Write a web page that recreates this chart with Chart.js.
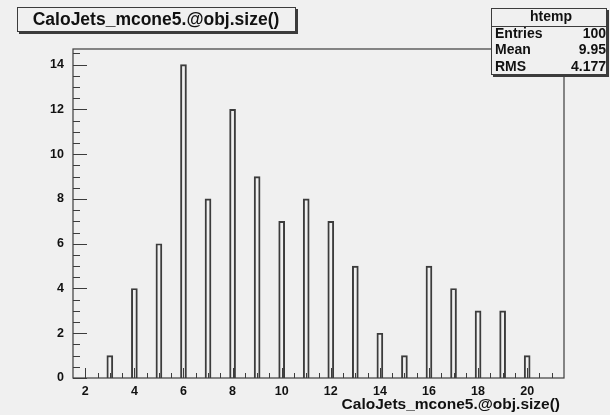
<!DOCTYPE html>
<html>
<head>
<meta charset="utf-8">
<script src="https://cdn.jsdelivr.net/npm/chart.js@4"></script>
<style>
  html, body { margin: 0; padding: 0; background: #f0f0f0; }
  canvas { display: block; }
</style>
</head>
<body>
<canvas id="myChart" width="610" height="415"></canvas>
<script>
'use strict';
//data
let binCenters = [3, 4, 5, 6, 7, 8, 9, 10, 11, 12, 13, 14, 15, 16, 17, 18, 19, 20];
let binCounts = [1, 4, 6, 14, 8, 12, 9, 7, 8, 7, 5, 2, 1, 5, 4, 3, 3, 1];
let xTicks = [2, 4, 6, 8, 10, 12, 14, 16, 18, 20];
let yTicks = [0, 2, 4, 6, 8, 10, 12, 14];
let histTitle = 'CaloJets_mcone5.@obj.size()';
let axisTitle = 'CaloJets_mcone5.@obj.size()';
let statsName = 'htemp';
let statsLabels = ['Entries', 'Mean', 'RMS'];
let statsValues = ['100', '9.95', '4.177'];

const lineColor = '#3c3c3c';
const fontFamily = '"Liberation Sans", Arial, sans-serif';

//draws a ROOT style box with a little shadow
function shadowBox(ctx, x, y, w, h){
  ctx.fillStyle = '#3c3c3c';
  ctx.fillRect(x + 2, y + 2, w, h);
  ctx.fillStyle = '#f0f0f0';
  ctx.fillRect(x, y, w, h);
  ctx.strokeStyle = lineColor;
  ctx.lineWidth = 1;
  ctx.strokeRect(x + 0.5, y + 0.5, w - 1, h - 1);
}

//frame, inside ticks, title and stats box
const rootDecor = {
  id: 'rootDecor',
  afterDraw(chart){
    const ctx = chart.ctx;
    const area = chart.chartArea;
    const xs = chart.scales.x;
    const ys = chart.scales.y;
    ctx.save();

    ctx.strokeStyle = lineColor;
    ctx.lineWidth = 1.2;
    ctx.strokeRect(area.left, area.top, area.right - area.left, area.bottom - area.top);

    //x ticks
    ctx.lineWidth = 1;
    for(let v = xs.min + 0.5; v < xs.max; v += 0.5){
      let px = Math.round(xs.getPixelForValue(v)) + 0.5;
      let len = (v % 2 === 0) ? 10 : 5;
      ctx.beginPath();
      ctx.moveTo(px, area.bottom);
      ctx.lineTo(px, area.bottom - len);
      ctx.stroke();
    }
    //y ticks
    for(let v = 0; v < ys.max; v += 0.5){
      let py = Math.round(ys.getPixelForValue(v)) + 0.5;
      let len = (v % 2 === 0) ? 14 : 7;
      ctx.beginPath();
      ctx.moveTo(area.left, py);
      ctx.lineTo(area.left + len, py);
      ctx.stroke();
    }

    //axis title
    ctx.fillStyle = '#111';
    ctx.font = 'bold 15.5px ' + fontFamily;
    ctx.textAlign = 'right';
    ctx.textBaseline = 'middle';
    ctx.fillText(axisTitle, 560, 405);

    //title box
    shadowBox(ctx, 17, 7, 279, 25);
    ctx.fillStyle = '#111';
    ctx.font = 'bold 17.5px ' + fontFamily;
    ctx.textAlign = 'center';
    ctx.fillText(histTitle, 156, 20);

    //stats box
    shadowBox(ctx, 491, 8, 116, 67);
    ctx.beginPath();
    ctx.moveTo(491, 26.5);
    ctx.lineTo(607, 26.5);
    ctx.stroke();
    ctx.fillStyle = '#111';
    ctx.font = 'bold 14px ' + fontFamily;
    ctx.textAlign = 'center';
    ctx.fillText(statsName, 551, 17);
    for(let i = 0; i < statsLabels.length; i++){
      let y = 34 + i * 16.5;
      ctx.textAlign = 'left';
      ctx.fillText(statsLabels[i], 495, y);
      ctx.textAlign = 'right';
      ctx.fillText(statsValues[i], 606, y);
    }
    ctx.restore();
  }
};

const ctx = document.getElementById('myChart');

new Chart(ctx, {
  type: 'bar',
  data: {
    datasets: [{
      data: binCenters.map((x, i) => ({x: x, y: binCounts[i]})),
      backgroundColor: 'rgba(0,0,0,0)',
      borderColor: lineColor,
      borderWidth: 1.3,
      barThickness: 6,
    }]
  },
  options: {
    responsive: false,
    animation: false,
    layout: {
      padding: {top: 49, right: 46, left: 0, bottom: 0}
    },
    plugins: {
      legend: {display: false},
      tooltip: {enabled: false}
    },
    scales: {
      x: {
        type: 'linear',
        offset: false,
        min: 1.5,
        max: 21.5,
        grid: {display: false, drawTicks: false, offset: false},
        border: {display: false},
        afterBuildTicks: (scale) => { scale.ticks = xTicks.map(v => ({value: v})); },
        afterFit: (scale) => { scale.height = 37; },
        ticks: {
          autoSkip: false,
          maxRotation: 0,
          padding: 6,
          color: '#111',
          font: {family: fontFamily, size: 12.5, weight: 'bold'}
        }
      },
      y: {
        min: 0,
        max: 14.7,
        grid: {display: false, drawTicks: false},
        border: {display: false},
        afterBuildTicks: (scale) => { scale.ticks = yTicks.map(v => ({value: v})); },
        afterFit: (scale) => { scale.width = 73; },
        ticks: {
          padding: 9,
          color: '#111',
          font: {family: fontFamily, size: 12.5, weight: 'bold'}
        }
      }
    }
  },
  plugins: [rootDecor]
});
</script>
</body>
</html>
